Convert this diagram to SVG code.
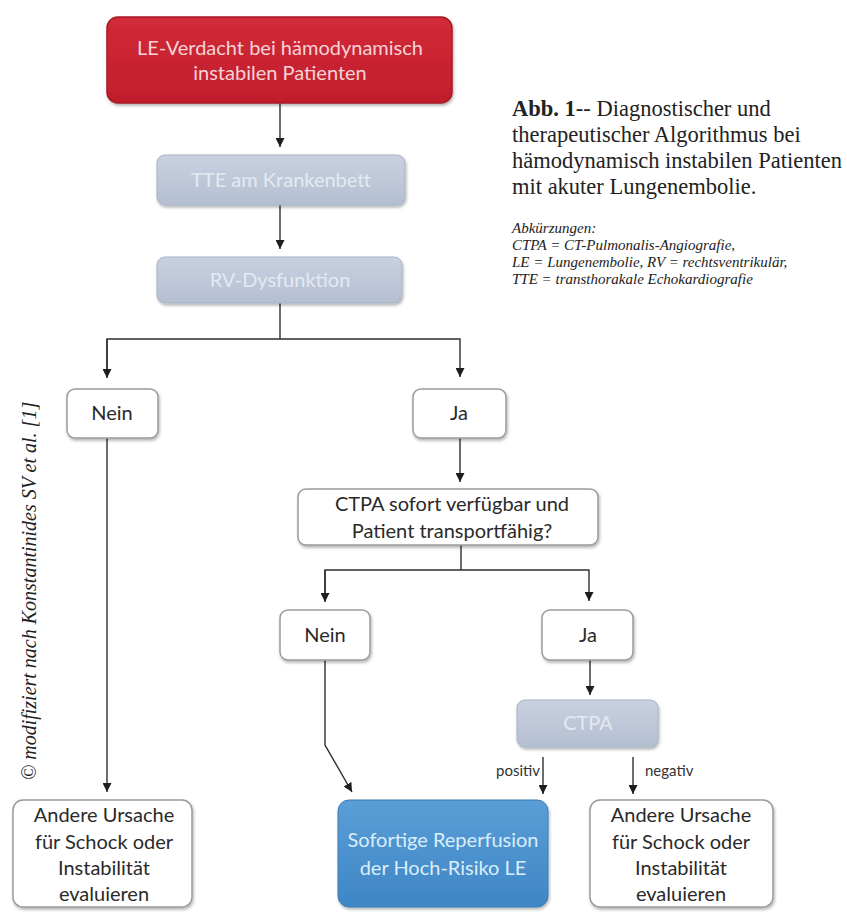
<svg xmlns="http://www.w3.org/2000/svg" width="847" height="912" viewBox="0 0 847 912">
<style>
.lbl{font-family:Lato,"Open Sans","Liberation Sans",sans-serif;font-size:20px;text-anchor:middle}
.dark{fill:#2a2a2a}
.wbox{fill:#ffffff;stroke:#9a9a9a;stroke-width:1.5}
.gbox{fill:url(#gGray);stroke:#a9b3c6;stroke-width:1}
.con{fill:none;stroke:#2e2e2e;stroke-width:1.4}
.cap{font-family:"Liberation Serif","Times New Roman",serif;font-size:22.5px;fill:#222}
.abbr{font-family:"Liberation Serif","Times New Roman",serif;font-size:15px;font-style:italic;fill:#222}
.small{font-family:Lato,"Open Sans","Liberation Sans",sans-serif;font-size:15px;fill:#333}
</style>
<defs>
<marker id="arr" viewBox="0 0 10 10" refX="10" refY="5" markerWidth="9" markerHeight="9" markerUnits="userSpaceOnUse" orient="auto">
<path d="M0,0 L10,5 L0,10 z" fill="#1e1e1e"/>
</marker>
<filter id="sh" x="-10%" y="-10%" width="125%" height="135%">
<feDropShadow dx="1" dy="2" stdDeviation="1.5" flood-color="#000" flood-opacity="0.3"/>
</filter>
<linearGradient id="gRed" x1="0" y1="0" x2="0" y2="1">
<stop offset="0" stop-color="#d22a38"/><stop offset="1" stop-color="#c01e2c"/>
</linearGradient>
<linearGradient id="gGray" x1="0" y1="0" x2="0" y2="1">
<stop offset="0" stop-color="#c9d1e0"/><stop offset="1" stop-color="#b4bfd2"/>
</linearGradient>
<linearGradient id="gBlue" x1="0" y1="0" x2="0" y2="1">
<stop offset="0" stop-color="#5a9ed6"/><stop offset="1" stop-color="#3f86c6"/>
</linearGradient>
</defs>
<rect width="847" height="912" fill="#ffffff"/>

<g id="connectors">
<line class="con" x1="280" y1="103" x2="280" y2="147" marker-end="url(#arr)"/>
<line class="con" x1="280" y1="205" x2="280" y2="249" marker-end="url(#arr)"/>
<polyline class="con" points="280,303 280,339"/>
<polyline class="con" points="107,377 107,339 460,339 460,377" marker-end="url(#arr)"/>
<line class="con" x1="107" y1="339" x2="107" y2="378" marker-end="url(#arr)"/>
<line class="con" x1="107" y1="438" x2="107" y2="792" marker-end="url(#arr)"/>
<line class="con" x1="460" y1="438" x2="460" y2="482" marker-end="url(#arr)"/>
<polyline class="con" points="461,545 461,570"/>
<polyline class="con" points="325,601 325,570 589,570 589,601" marker-end="url(#arr)"/>
<line class="con" x1="325" y1="570" x2="325" y2="602" marker-end="url(#arr)"/>
<line class="con" x1="590" y1="660" x2="590" y2="695" marker-end="url(#arr)"/>
<polyline class="con" points="325,660 325,745 352,792" marker-end="url(#arr)"/>
<line class="con" x1="543" y1="757" x2="543" y2="794" marker-end="url(#arr)"/>
<line class="con" x1="633" y1="757" x2="633" y2="794" marker-end="url(#arr)"/>
<text class="small" x="540" y="776" text-anchor="end">positiv</text>
<text class="small" x="645" y="776">negativ</text>
</g>

<g id="n-le-verdacht">
<rect x="107" y="17" width="345" height="86" rx="11" fill="url(#gRed)" stroke="#a51a26" stroke-width="1.5" filter="url(#sh)"/>
<text class="lbl" x="280" y="55" fill="#f6d3d7">LE-Verdacht bei hämodynamisch</text>
<text class="lbl" x="280" y="80" fill="#f6d3d7">instabilen Patienten</text>
</g>

<g id="n-tte">
<rect class="gbox" x="157" y="155" width="248" height="50" rx="8" filter="url(#sh)"/>
<text class="lbl" x="281" y="187" fill="#e4e9f2">TTE am Krankenbett</text>
</g>

<g id="n-rv">
<rect class="gbox" x="157" y="257" width="245" height="46" rx="8" filter="url(#sh)"/>
<text class="lbl" x="280" y="287" fill="#e4e9f2">RV-Dysfunktion</text>
</g>

<g id="n-nein1">
<rect class="wbox" x="67" y="389" width="91" height="49" rx="8" filter="url(#sh)"/>
<text class="lbl dark" x="112" y="420">Nein</text>
</g>

<g id="n-ja1">
<rect class="wbox" x="413" y="389" width="93" height="49" rx="8" filter="url(#sh)"/>
<text class="lbl dark" x="459" y="420">Ja</text>
</g>

<g id="n-ctpa-frage">
<rect class="wbox" x="298" y="489" width="300" height="56" rx="8" filter="url(#sh)"/>
<text class="lbl dark" x="452" y="511">CTPA sofort verfügbar und</text>
<text class="lbl dark" x="452" y="538">Patient transportfähig?</text>
</g>

<g id="n-nein2">
<rect class="wbox" x="280" y="610" width="90" height="50" rx="8" filter="url(#sh)"/>
<text class="lbl dark" x="325" y="642">Nein</text>
</g>

<g id="n-ja2">
<rect class="wbox" x="542" y="610" width="91" height="50" rx="8" filter="url(#sh)"/>
<text class="lbl dark" x="588" y="642">Ja</text>
</g>

<g id="n-ctpa">
<rect class="gbox" x="517" y="700" width="141" height="47" rx="8" filter="url(#sh)"/>
<text class="lbl" x="588" y="730" fill="#e4e9f2">CTPA</text>
</g>

<g id="n-andere1">
<rect class="wbox" x="13" y="800" width="179" height="107" rx="10" filter="url(#sh)"/>
<text class="lbl dark" x="104" y="822">Andere Ursache</text>
<text class="lbl dark" x="104" y="849">für Schock oder</text>
<text class="lbl dark" x="104" y="875">Instabilität</text>
<text class="lbl dark" x="104" y="901">evaluieren</text>
</g>

<g id="n-reperfusion">
<rect x="338" y="800" width="210" height="107" rx="11" fill="url(#gBlue)" stroke="#3a7cb8" stroke-width="1" filter="url(#sh)"/>
<text class="lbl" x="443" y="847" fill="#d9eefa">Sofortige Reperfusion</text>
<text class="lbl" x="443" y="875" fill="#d9eefa">der Hoch-Risiko LE</text>
</g>

<g id="n-andere2">
<rect class="wbox" x="590" y="800" width="183" height="107" rx="10" filter="url(#sh)"/>
<text class="lbl dark" x="681" y="822">Andere Ursache</text>
<text class="lbl dark" x="681" y="849">für Schock oder</text>
<text class="lbl dark" x="681" y="875">Instabilität</text>
<text class="lbl dark" x="681" y="901">evaluieren</text>
</g>

<g id="caption">
<text class="cap" x="512" y="116"><tspan font-weight="bold">Abb. 1</tspan>-- Diagnostischer und</text>
<text class="cap" x="512" y="142">therapeutischer Algorithmus bei</text>
<text class="cap" x="512" y="168">hämodynamisch instabilen Patienten</text>
<text class="cap" x="512" y="194">mit akuter Lungenembolie.</text>
<text class="abbr" x="512" y="233">Abkürzungen:</text>
<text class="abbr" x="512" y="250">CTPA = CT-Pulmonalis-Angiografie,</text>
<text class="abbr" x="512" y="267">LE = Lungenembolie, RV = rechtsventrikulär,</text>
<text class="abbr" x="512" y="284">TTE = transthorakale Echokardiografie</text>
</g>

<g id="credit">
<text font-family="'Liberation Serif','Times New Roman',serif" font-size="20" font-style="italic" fill="#222" transform="translate(36,780) rotate(-90)">© modifiziert nach Konstantinides SV et al. [1]</text>
</g>
</svg>
